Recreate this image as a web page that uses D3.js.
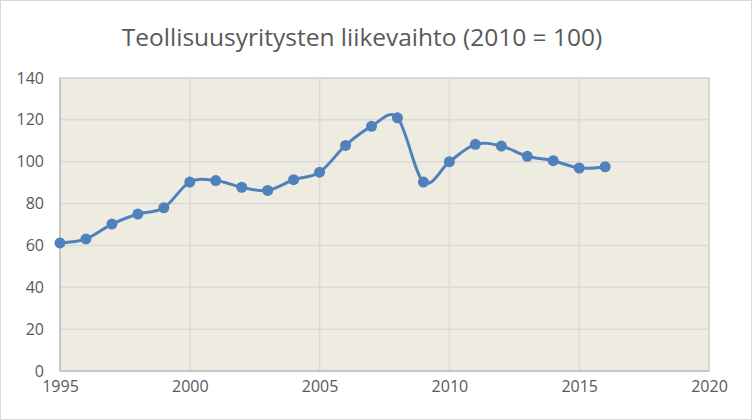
<!DOCTYPE html>
<html>
<head>
<meta charset="utf-8">
<script src="https://cdn.jsdelivr.net/npm/d3@7"></script>
<style>
  body { margin: 0; background: #fff; }
  svg { display: block; font-family: "Open Sans", sans-serif; }
</style>
</head>
<body>
<script>
// Data
const years = [1995, 1996, 1997, 1998, 1999, 2000, 2001, 2002, 2003, 2004, 2005,
  2006, 2007, 2008, 2009, 2010, 2011, 2012, 2013, 2014, 2015, 2016];
const values = [61.2, 63.1, 70.2, 75, 78, 90.3, 91, 87.8, 86.3, 91.4, 95,
  107.8, 116.9, 121, 90.3, 100, 108.3, 107.5, 102.6, 100.5, 97, 97.6];
const xTicks = [1995, 2000, 2005, 2010, 2015, 2020];
const yTicks = [0, 20, 40, 60, 80, 100, 120, 140];
const title = "Teollisuusyritysten liikevaihto (2010 = 100)";

const W = 752, H = 420;
const margin = { top: 78, right: 43, bottom: 49, left: 60 };
const width = W - margin.left - margin.right;
const height = H - margin.top - margin.bottom;

const svg = d3.select("body").append("svg")
  .attr("width", W)
  .attr("height", H);

// Outer chart border
svg.append("rect")
  .attr("x", 0.5).attr("y", 0.5)
  .attr("width", W - 1).attr("height", H - 1)
  .attr("fill", "#fff")
  .attr("stroke", "#d9d9d9");

const g = svg.append("g")
  .attr("transform", `translate(${margin.left},${margin.top})`);

const x = d3.scaleLinear().domain([1995, 2020]).range([0, width]);
const y = d3.scaleLinear().domain([0, 140]).range([height, 0]);

// Plot area
g.append("rect")
  .attr("width", width).attr("height", height)
  .attr("fill", "#eeece1")
  .attr("stroke", "#d9d9d9")
  .attr("stroke-width", 2);

// Gridlines
g.append("g")
  .selectAll("line")
  .data(yTicks.slice(1, -1))
  .join("line")
  .attr("x1", 0).attr("x2", width)
  .attr("y1", d => y(d)).attr("y2", d => y(d))
  .attr("stroke", "#d9d9d9").attr("stroke-width", 1.5);

g.append("g")
  .selectAll("line")
  .data(xTicks.slice(1, -1))
  .join("line")
  .attr("x1", d => x(d)).attr("x2", d => x(d))
  .attr("y1", 0).attr("y2", height)
  .attr("stroke", "#d9d9d9").attr("stroke-width", 1.5);

// Axis lines
g.append("line")
  .attr("x1", 0).attr("x2", width)
  .attr("y1", height).attr("y2", height)
  .attr("stroke", "#bfbfbf").attr("stroke-width", 1.5);
g.append("line")
  .attr("x1", 0).attr("x2", 0)
  .attr("y1", 0).attr("y2", height)
  .attr("stroke", "#bfbfbf").attr("stroke-width", 1.5);

// Axes (labels only)
const yAxis = g.append("g")
  .call(d3.axisLeft(y).tickValues(yTicks).tickSize(0).tickPadding(16));
const xAxis = g.append("g")
  .attr("transform", `translate(0,${height})`)
  .call(d3.axisBottom(x).tickValues(xTicks).tickFormat(d3.format("d")).tickSize(0).tickPadding(10));

[xAxis, yAxis].forEach(a => {
  a.select(".domain").remove();
  a.selectAll("text")
    .attr("fill", "#595959")
    .style("font-family", "'Open Sans', sans-serif")
    .style("font-size", "16px");
});

// Line
const pts = years.map((d, i) => [d, values[i]]);
g.append("path")
  .datum(pts)
  .attr("fill", "none")
  .attr("stroke", "#4f81bd")
  .attr("stroke-width", 3)
  .attr("stroke-linejoin", "round")
  .attr("d", d3.line()
    .x(d => x(d[0]))
    .y(d => y(d[1]))
    .curve(d3.curveCardinal.tension(0)));

// Markers
g.selectAll(".dot")
  .data(pts)
  .join("circle")
  .attr("class", "dot")
  .attr("cx", d => x(d[0]))
  .attr("cy", d => y(d[1]))
  .attr("r", 5.5)
  .attr("fill", "#4f81bd");

// Title
svg.append("text")
  .attr("x", 362)
  .attr("y", 46)
  .attr("text-anchor", "middle")
  .attr("fill", "#595959")
  .style("font-size", "24.5px")
  .text(title);
</script>
</body>
</html>
